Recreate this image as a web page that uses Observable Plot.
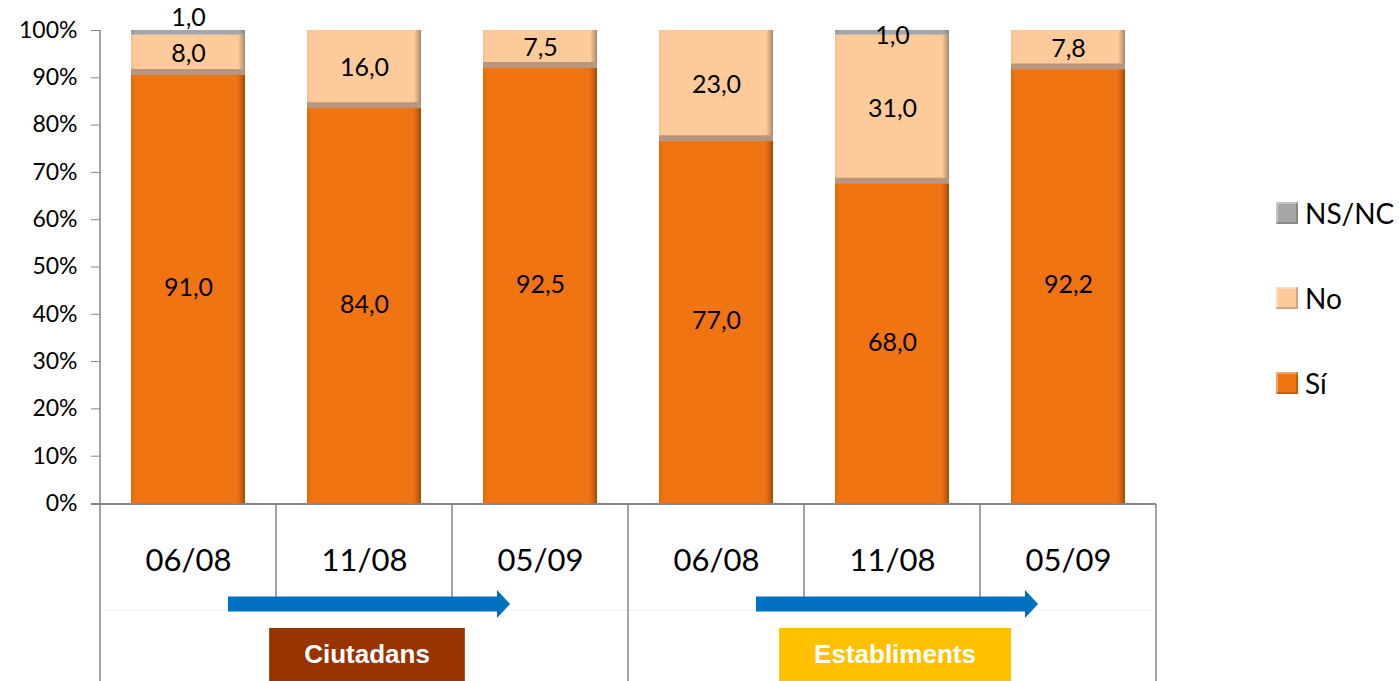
<!DOCTYPE html>
<html><head><meta charset="utf-8">
<script src="https://cdn.jsdelivr.net/npm/d3@7"></script>
<script src="https://cdn.jsdelivr.net/npm/@observablehq/plot@0.6"></script>
<style>
body{margin:0;background:#fff;font-family:Lato, sans-serif;}
#wrap{position:relative;width:1399px;height:681px;overflow:hidden;}
#wrap svg{position:absolute;left:0;top:0;}
#legend{position:absolute;left:1276px;top:0;width:123px;height:681px;}
.item{position:absolute;left:0;display:flex;align-items:center;white-space:nowrap;font-size:28px;line-height:30px;color:#000;}
.sw{width:22px;height:22px;margin-right:7px;box-sizing:border-box;}
g[aria-label="y-axis tick"] path{stroke:#868686;}
</style></head><body><div id="wrap"><div id="legend"></div></div>
<script>
const periods = ["06/08","11/08","05/09","06/08","11/08","05/09"];
const groups = ["Ciutadans","Ciutadans","Ciutadans","Establiments","Establiments","Establiments"];
const si   = [91.0, 84.0, 92.5, 77.0, 68.0, 92.2];
const no   = [8.0, 16.0, 7.5, 23.0, 31.0, 7.8];
const nsnc = [1.0, 0, 0, 0, 1.0, 0];
const series = ["Sí","No","NS/NC"];
const colors = ["#F07411","#FDCA9A","#A6A6A6"];
const groupNames = ["Ciutadans","Establiments"];
const groupColors = ["#993300","#FFC000"];
const yTicks = [0,10,20,30,40,50,60,70,80,90,100];

const keys = periods.map((p,i)=> i + "|" + p);
const rows = [];
keys.forEach((k,i)=>{
  let base = 0;
  [si[i], no[i], nsnc[i]].forEach((v,j)=>{
    rows.push({key:k, i, s:j, value:v, y1:base, y2:base+v, mid:base+v/2});
    base += v;
  });
});
const gradIds = ["gSi","gNo","gNs"];
const fmt = v => v.toFixed(1).replace(".", ",");
const visible = rows.filter(d=>d.value>0);

const plot = Plot.plot({
  width:1399, height:681, marginLeft:100, marginRight:242, marginTop:30, marginBottom:178,
  style:{fontFamily:"Lato, sans-serif", background:"transparent", color:"#000", overflow:"visible"},
  x:{domain:keys, paddingInner:0.35, paddingOuter:0.175, axis:null},
  y:{domain:[0,100], axis:null},
  color:{type:"identity"},
  marks:[
    Plot.barY(visible, {x:"key", y1:"y1", y2:"y2", fill:d=>`url(#${gradIds[d.s]})`}),
    Plot.tickY(visible.filter(d=>d.s===1), {x:"key", y:"y1", stroke:"#B8967E", strokeWidth:6, dy:-1}),
    Plot.axisY({ticks:yTicks, tickFormat:d=>d+"%", tickSize:9, tickPadding:14, fontSize:23, label:null}),
    Plot.axisX({tickSize:0, tickPadding:45, fontSize:31, tickFormat:k=>k.split("|")[1], label:null}),
    Plot.text(visible.filter(d=>d.s<2), {x:"key", y:"mid", text:d=>fmt(d.value), fontSize:25, fill:"#000"}),
    Plot.text(visible.filter(d=>d.s===2 && d.i===0), {x:"key", y:"mid", text:d=>fmt(d.value), fontSize:25, fill:"#000", dy:-15}),
    Plot.text(visible.filter(d=>d.s===2 && d.i!==0), {x:"key", y:"mid", text:d=>fmt(d.value), fontSize:25, fill:"#000", dy:3})
  ]
});
document.getElementById("wrap").prepend(plot);

const svg = d3.select(plot);
const defs = svg.insert("defs", ":first-child");
function grad(id, stops){
  const g = defs.append("linearGradient").attr("id", id).attr("x1","0").attr("x2","1").attr("y1","0").attr("y2","0");
  stops.forEach(([o,c])=>g.append("stop").attr("offset",o).attr("stop-color",c));
}
grad("gSi", [["0%","#E46C0E"],["4%","#F07411"],["93%","#F07411"],["97%","#C9600C"],["100%","#9C4A08"]]);
grad("gNo", [["0%","#F3C091"],["4%","#FDCA9A"],["94%","#FDCA9A"],["97%","#D6AA82"],["100%","#A88A72"]]);
grad("gNs", [["0%","#9E9E9E"],["5%","#A6A6A6"],["95%","#A6A6A6"],["100%","#8A8A8A"]]);

const xs = plot.scale("x"), ys = plot.scale("y");
const step = xs.step, bw = xs.bandwidth;
const starts = keys.map(k=>xs.apply(k));
const centers = starts.map(s=>s + bw/2);
const edges = starts.map(s=>s - (step-bw)/2);
edges.push(edges[edges.length-1] + step);
const y0 = ys.apply(0), y100 = ys.apply(100);
const over = svg.append("g");
const grey = "#868686";
// axis lines
over.append("line").attr("x1",edges[0]).attr("x2",edges[0]).attr("y1",y100).attr("y2",y0).attr("stroke",grey).attr("stroke-width",1.5);
over.append("line").attr("x1",edges[0]-9).attr("x2",edges[6]).attr("y1",y0+1).attr("y2",y0+1).attr("stroke",grey).attr("stroke-width",2);
// faint inner line
over.append("line").attr("x1",edges[0]).attr("x2",edges[6]).attr("y1",y0+107).attr("y2",y0+107).attr("stroke","#EEEEEE").attr("stroke-width",1);
// separators
edges.forEach((e,i)=>{
  const groupEdge = i===0 || i===edges.length-1 || groups[i]!==groups[i-1];
  over.append("line").attr("x1",e).attr("x2",e).attr("y1",y0+1)
    .attr("y2", groupEdge ? 681 : y0+107).attr("stroke",grey).attr("stroke-width",1.5);
});
// arrows and group boxes
groupNames.forEach((g,gi)=>{
  const idx = groups.map((v,i)=>v===g?i:-1).filter(i=>i>=0);
  const xa = centers[idx[0]] + 40, xb = centers[idx[idx.length-1]] - 30;
  const ya = y0 + 101, t = 7.5, h = 14, hl = 13;
  over.append("path").attr("fill","#0070C0")
    .attr("d",`M${xa},${ya-t}L${xb-hl},${ya-t}L${xb-hl},${ya-h}L${xb},${ya}L${xb-hl},${ya+h}L${xb-hl},${ya+t}L${xa},${ya+t}Z`);
  const cx = centers[idx[Math.floor(idx.length/2)]] + 3;
  const box = over.append("g");
  const rect = box.append("rect").attr("fill",groupColors[gi]);
  const txt = box.append("text").attr("x",cx).attr("y",y0+153).attr("text-anchor","middle")
    .attr("dominant-baseline","middle").attr("fill","#fff").attr("font-weight","bold")
    .attr("font-family","Liberation Sans, Arial, sans-serif").attr("font-size",26).text(g);
  const w = txt.node().getComputedTextLength() + 70;
  rect.attr("x",cx-w/2).attr("width",w).attr("y",y0+125).attr("height",60);
});

// legend
const legend = document.getElementById("legend");
const legendTops = {"NS/NC":213, "No":298, "Sí":383};
[2,1,0].forEach(j=>{
  const it = document.createElement("div");
  it.className = "item";
  it.style.top = (legendTops[series[j]] - 15) + "px";
  const sw = document.createElement("div");
  sw.className = "sw";
  sw.style.background = colors[j];
  sw.style.boxShadow = "inset -2px -2px 0 rgba(0,0,0,0.18), inset 2px 2px 0 rgba(255,255,255,0.35)";
  it.appendChild(sw);
  const lab = document.createElement("span");
  lab.textContent = series[j];
  it.appendChild(lab);
  legend.appendChild(it);
});
</script></body></html>
